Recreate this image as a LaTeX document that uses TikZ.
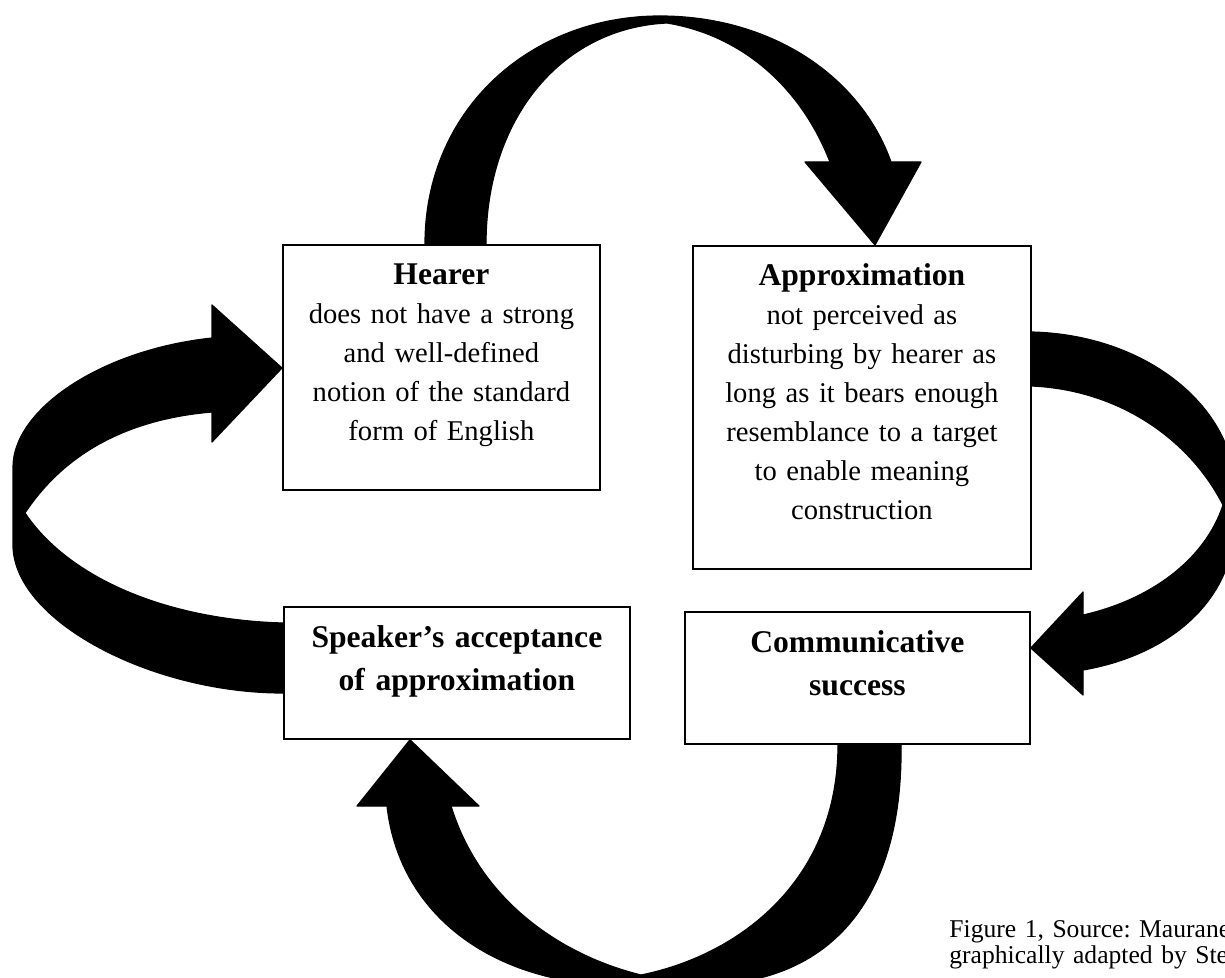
\documentclass[tikz,border=0pt]{standalone}
\usepackage{fontspec}
\setmainfont{Liberation Serif}
\usepackage{tikz}
\frenchspacing
\tikzset{%
	every card/.style={
		draw,
		line width=0.9pt,
		inner sep=0pt,
		anchor=north west,
		align=center,
		text height=20pt
	},
	card top/.style={
		font=\fontsize{14.3}{19.5}\selectfont
	},
	card bottom/.style={
		text height=20.5pt,
		text depth=45.5pt,
		font=\fontsize{15.8}{21.5}\selectfont\bfseries
	},
	curl arrow/.style={
		fill=black,
		draw=black,
		line width=0.6pt,
		line join=round
	},
}
\newcommand{\cardtitle}[1]{{\fontsize{15.8}{19.5}\selectfont\bfseries #1}}

\begin{document}
\begin{tikzpicture}[x=0.5pt, y=-0.5pt]
		
		\path [use as bounding box] (0,0) rectangle (1225,978);
		
		\node [every card, card top, text width=158.5pt, text depth=102.5pt] (hearer) at (282,244)
		{\cardtitle{Hearer}\\ does not have a strong\\ and well-defined\\ notion of the standard\\ form of English};
		
		\node [every card, card top, text width=169pt, text depth=141.5pt] (approx) at (692,245)
		{\cardtitle{Approximation}\\ not perceived as\\ disturbing by hearer as\\ long as it bears enough\\ resemblance to a target\\ to enable meaning\\ construction};
		
		\node [every card, card bottom, text width=173pt] (speaker) at (283,606)
		{Speaker's acceptance\\ of approximation};
		
		\node [every card, card bottom, text width=172.5pt] (comm) at (684,611)
		{Communicative\\ success};
		
		\node [anchor=base west, inner sep=0pt, text width=200pt, align=left, font=\fontsize{12.8}{13}\selectfont] (caption) at (949,937)
		{Figure 1, Source: Maurane\\ graphically adapted by Ste};
		
		\draw [curl arrow] (425,0 |- hearer.north)
		.. controls (425,110) and (530,16) .. (660,16)
		.. controls (770,16) and (860,75) .. (891,162)
		-- (921,162) -- (875,0 |- approx.north) -- (805,162) -- (830,162)
		.. controls (800,85) and (740,35) .. (667,23)
		.. controls (560,28) and (486,120) .. (486,0 |- hearer.north) -- cycle;
		
		\draw [curl arrow] (approx.east |- 0,332)
		.. controls (1150,335) and (1235,410) .. (1235,490) -- (1235,520)
		.. controls (1235,600) and (1170,655) .. (1083,670)
		-- (1083,695) -- (comm.east |- 0,648) -- (1083,592) -- (1083,615)
		.. controls (1150,600) and (1205,560) .. (1223,505)
		.. controls (1190,440) and (1120,390) .. (approx.east |- 0,386) -- cycle;
		
		\draw [curl arrow] (901,0 |- comm.south)
		.. controls (903,900) and (830,985) .. (700,985) -- (620,985)
		.. controls (500,985) and (400,920) .. (387,806)
		-- (357,806) -- (410,0 |- speaker.south) -- (479,806) -- (451,806)
		.. controls (480,900) and (560,955) .. (641,975)
		.. controls (740,955) and (838,880) .. (838,0 |- comm.south) -- cycle;
		
		\draw [curl arrow] (speaker.west |- 0,693)
		.. controls (150,693) and (13,620) .. (13,545) -- (13,467)
		.. controls (13,410) and (100,350) .. (212,338)
		-- (212,305) -- (hearer.west |- 0,368) -- (212,442) -- (212,412)
		.. controls (140,418) and (70,445) .. (25,513)
		.. controls (70,580) and (170,620) .. (speaker.west |- 0,623) -- cycle;
		
\end{tikzpicture}
\end{document}
